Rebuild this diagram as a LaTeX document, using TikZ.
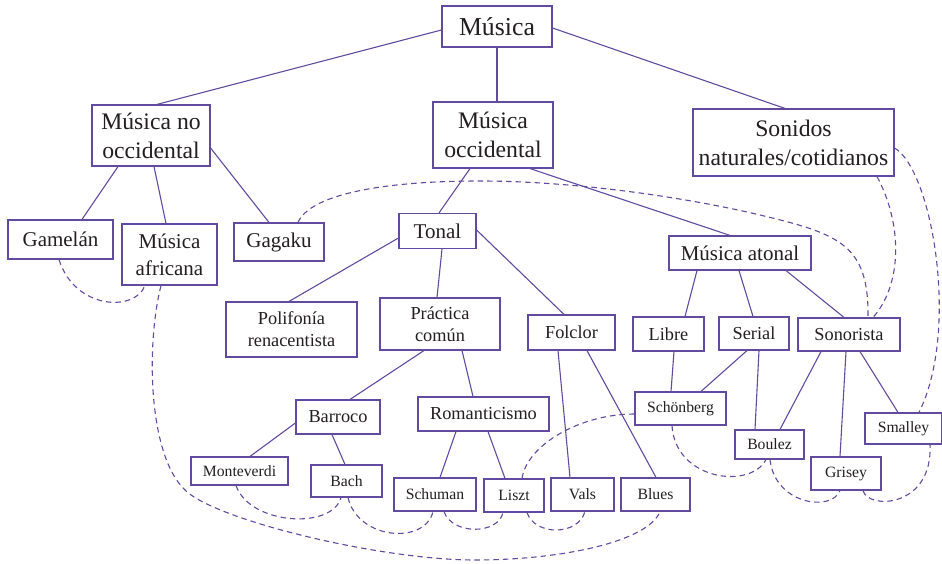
\documentclass[tikz,border=0pt]{standalone}
\usepackage{fontspec}
\setmainfont{Liberation Serif}
\usetikzlibrary{calc}
\definecolor{linec}{RGB}{98,75,158}
\definecolor{textc}{RGB}{35,31,32}
\begin{document}
\begin{tikzpicture}[x=1pt,y=-1pt,
  box/.style 2 args={draw=linec, line width=1.15pt, fill=white, text=textc,
    align=center, inner sep=0pt, minimum width=#1, minimum height=#2},
  f0/.style={font=\fontsize{25.8}{30}\selectfont},
  f1/.style={font=\fontsize{23.7}{29}\selectfont},
  f2/.style={font=\fontsize{21}{27}\selectfont},
  f3/.style={font=\fontsize{18.3}{22}\selectfont},
  f4/.style={font=\fontsize{15.7}{18}\selectfont},
  edge/.style={draw=linec, line width=1.1pt},
  link/.style={draw=linec, line width=1.1pt, dash pattern=on 5.5pt off 4pt}]
\useasboundingbox (0,0) rectangle (942,564);

% boxes
\node[box={110}{41}, f0] (musica) at (497,26.5) {Música};
\node[box={118}{61}, f1] (noocc) at (151,135.5) {Música no\\occidental};
\node[box={120}{66}, f1] (occ) at (493,135) {Música\\occidental};
\node[box={201}{67}, f1] (sonidos) at (793.5,142.5) {Sonidos\\naturales/cotidianos};
\node[box={105}{39}, f2] (gamelan) at (60.5,239.5) {Gamelán};
\node[box={95}{61}, f2] (africana) at (169.5,254.5) {Música\\africana};
\node[box={90}{38}, f2] (gagaku) at (279,242) {Gagaku};
\node[box={77}{35}, f2] (tonal) at (437.5,231) {Tonal};
\node[box={142}{34}, f2] (atonal) at (740,253) {Música atonal};
\node[box={131}{55}, f3] (polifonia) at (291.5,329.5) {Polifonía\\renacentista};
\node[box={120}{52}, f3] (practica) at (440,324) {Práctica\\común};
\node[box={87}{35}, f3] (folclor) at (571.5,332.5) {Folclor};
\node[box={71}{34}, f3] (libre) at (668.5,334) {Libre};
\node[box={70}{33}, f3] (serial) at (754,333.5) {Serial};
\node[box={102}{33}, f3] (sonorista) at (849,334.5) {Sonorista};
\node[box={84}{34}, f3] (barroco) at (338,417) {Barroco};
\node[box={131}{34}, f3] (romanticismo) at (483.5,414) {Romanticismo};
\node[box={97}{28}, f4] (monteverdi) at (239.5,471) {Monteverdi};
\node[box={71}{32}, f4] (bach) at (346.5,481) {Bach};
\node[box={82}{33}, f4] (schuman) at (435,494.5) {Schuman};
\node[box={60}{33}, f4] (liszt) at (514,495.5) {Liszt};
\node[box={63}{33}, f4] (vals) at (582.5,494.5) {Vals};
\node[box={69}{33}, f4] (blues) at (655.5,494.5) {Blues};
\node[box={91}{33}, f4] (schonberg) at (680.5,408.5) {Schönberg};
\node[box={69}{29}, f4] (boulez) at (769.5,444.5) {Boulez};
\node[box={70}{33}, f4] (grisey) at (846,473.5) {Grisey};
\node[box={77}{31}, f4] (smalley) at (903.5,428.5) {Smalley};

% hierarchy
\draw[edge] ([yshift=-3.5pt]musica.west) -- ([xshift=6pt]noocc.north);
\draw[edge] (musica.south) -- (musica.south |- occ.north);
\draw[edge] ([yshift=-1.5pt]musica.east) -- ([xshift=-8.5pt]sonidos.north);
\draw[edge] ([xshift=-33pt]noocc.south) -- ([xshift=21.5pt]gamelan.north);
\draw[edge] ([xshift=3pt]noocc.south) -- ([xshift=-3.5pt]africana.north);
\draw[edge] ([yshift=-12.5pt]noocc.east) -- ([xshift=-10pt]gagaku.north);
\draw[edge] ([xshift=-23pt]occ.south) -- ([xshift=1.5pt]tonal.north);
\draw[edge] ([xshift=37pt]occ.south) -- ([xshift=-10pt]atonal.north);
\draw[edge] ([yshift=-7pt]tonal.west) -- ([xshift=-2.5pt]polifonia.north);
\draw[edge] ([xshift=4.5pt]tonal.south) -- ([xshift=-3pt]practica.north);
\draw[edge] ([yshift=1pt]tonal.east) -- ([xshift=-7.5pt]folclor.north);
\draw[edge] ([xshift=-16pt]practica.south) -- ([xshift=12pt]barroco.north);
\draw[edge] ([xshift=22pt]practica.south) -- ([xshift=-10.5pt]romanticismo.north);
\draw[edge] ([yshift=-6pt]barroco.west) -- ([xshift=10.5pt]monteverdi.north);
\draw[edge] ([xshift=-6pt]barroco.south) -- ([xshift=-1.5pt]bach.north);
\draw[edge] ([xshift=-27.5pt]romanticismo.south) -- ([xshift=5pt]schuman.north);
\draw[edge] ([xshift=4.5pt]romanticismo.south) -- ([xshift=-9pt]liszt.north);
\draw[edge] ([xshift=-13.5pt]folclor.south) -- ([xshift=-12.5pt]vals.north);
\draw[edge] ([xshift=15.5pt]folclor.south) -- ([xshift=0.5pt]blues.north);
\draw[edge] ([xshift=-43pt]atonal.south) -- ([xshift=16.5pt]libre.north);
\draw[edge] ([xshift=-1pt]atonal.south) -- ([xshift=-1pt]serial.north);
\draw[edge] ([xshift=46pt]atonal.south) -- ([xshift=-5pt]sonorista.north);
\draw[edge] ([xshift=5.5pt]libre.south) -- ([xshift=-9.5pt]schonberg.north);
\draw[edge] ([xshift=-7pt]serial.south) -- ([xshift=20.5pt]schonberg.north);
\draw[edge] ([xshift=5pt]serial.south) -- ([xshift=-14.5pt]boulez.north);
\draw[edge] ([xshift=-28pt]sonorista.south) -- ([xshift=10.5pt]boulez.north);
\draw[edge] ([xshift=-3pt]sonorista.south) -- ([xshift=-6pt]grisey.north);
\draw[edge] ([xshift=11pt]sonorista.south) -- ([xshift=-5.5pt]smalley.north);

% cross links
\draw[link] ([xshift=-1.5pt]gamelan.south) .. controls (75,310) and (135,312) .. ([xshift=-24.5pt]africana.south);
\draw[link] ([xshift=-8.5pt]africana.south) .. controls (146,345) and (148,455) .. (185,490)
  .. controls (215,520) and (380,560) .. (475,560)
  .. controls (560,560) and (648,542) .. ([xshift=4.5pt]blues.south);
\draw[link] ([xshift=19pt]gagaku.north) .. controls (310,195) and (380,181) .. (480,181)
  .. controls (570,181) and (680,196) .. (760,215)
  .. controls (840,234) and (869,245) .. ([xshift=19pt]sonorista.north);
\draw[link] ([xshift=83.5pt]sonidos.south) .. controls (903,225) and (902,285) .. ([xshift=24pt]sonorista.north);
\draw[link] ([yshift=-5.5pt]sonidos.east) .. controls (932,170) and (960,330) .. ([xshift=15.5pt]smalley.north);
\draw[link] ([xshift=-3.5pt]monteverdi.south) .. controls (250,525) and (332,530) .. ([xshift=-5.5pt]bach.south);
\draw[link] ([xshift=1.5pt]bach.south) .. controls (358,540) and (425,545) .. ([xshift=-2pt]schuman.south);
\draw[link] ([xshift=9pt]schuman.south) .. controls (452,535) and (498,535) .. ([xshift=-11pt]liszt.south);
\draw[link] ([xshift=13pt]liszt.south) .. controls (535,536) and (578,536) .. ([xshift=2.5pt]vals.south);
\draw[link] ([xshift=8pt]liszt.north) .. controls (527,445) and (580,414) .. ([yshift=-5.5pt]schonberg.west);
\draw[link] ([xshift=-8.5pt]schonberg.south) .. controls (675,480) and (750,490) .. ([xshift=-3.5pt]boulez.south);
\draw[link] ([xshift=0.5pt]boulez.south) .. controls (775,505) and (832,512) .. ([xshift=-6pt]grisey.south);
\draw[link] ([xshift=17pt]grisey.south) .. controls (868,510) and (933,508) .. ([xshift=26.5pt]smalley.south);
\end{tikzpicture}
\end{document}
